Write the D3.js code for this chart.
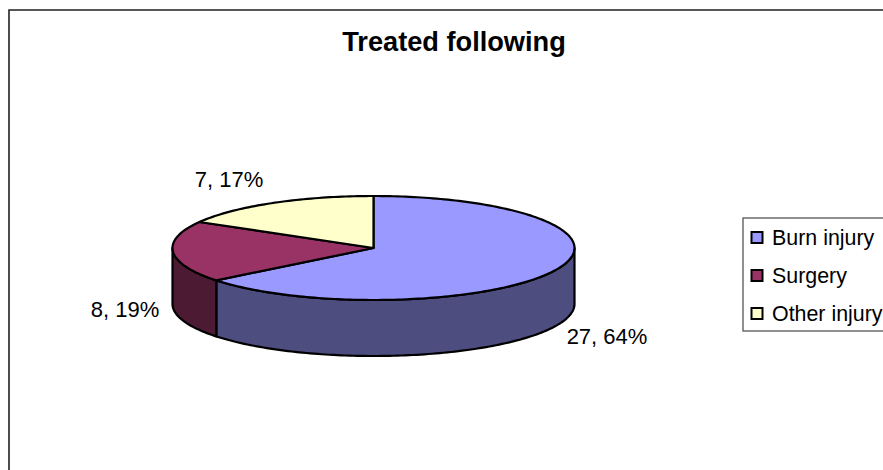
<!DOCTYPE html>
<html lang="en">
<head>
<meta charset="UTF-8">
<title>Treated following</title>
<script src="https://cdn.jsdelivr.net/npm/d3@7"></script>
<style>
*{margin:0; padding:0;}
html,body{background:#fff; overflow:hidden;}
text{font-family:"Liberation Sans",Arial,sans-serif; fill:#000;}
</style>
</head>
<body>
<script>
var categories = ["Burn injury", "Surgery", "Other injury"];
var counts = [27, 8, 7];
var percents = ["64%", "19%", "17%"];
var topColors = ["#9999ff", "#993366", "#ffffcc"];
var sideColors = ["#4d4d80", "#4d1a33", "#808066"];

var width = 883, height = 470;
var cx = 373.5, cy = 248, rx = 201, ry = 52, depth = 56;

var svg = d3.select("body").append("svg")
	.attr("width", width)
	.attr("height", height)
	.style("display", "block");

// chart frame, cut off on the right and bottom like the source
svg.append("path")
	.attr("d", "M9,470V10H883")
	.attr("fill", "none")
	.attr("stroke", "#222")
	.attr("stroke-width", 1.6);

svg.append("text")
	.attr("x", 454).attr("y", 50.5)
	.attr("text-anchor", "middle")
	.attr("font-size", 27.2)
	.attr("font-weight", "bold")
	.text("Treated following");

var pie = d3.pie().sort(null)(counts);

// angle is clockwise from 12 o'clock
function px(a){ return cx + rx*Math.sin(a); }
function py(a){ return cy - ry*Math.cos(a); }

var line = d3.line();
function rim(a0, a1, dy){
	var n = Math.max(2, Math.ceil((a1-a0)/0.02));
	return d3.range(n+1).map(function(i){
		var a = a0 + (a1-a0)*i/n;
		return [px(a), py(a)+dy];
	});
}

// walls, only the front half of the rim shows
var walls = svg.append("g");
pie.forEach(function(d, i){
	var a0 = Math.max(d.startAngle, Math.PI/2);
	var a1 = Math.min(d.endAngle, Math.PI*3/2);
	if(a1 <= a0) return;
	var pts = rim(a0, a1, 0).concat(rim(a0, a1, depth).reverse());
	walls.append("path")
		.attr("d", line(pts)+"Z")
		.attr("fill", sideColors[i])
		.attr("stroke", "#000")
		.attr("stroke-width", 2.2)
		.attr("stroke-linejoin", "round");
});

// top face
var tops = svg.append("g");
pie.forEach(function(d, i){
	var pts = [[cx, cy]].concat(rim(d.startAngle, d.endAngle, 0));
	tops.append("path")
		.attr("d", line(pts)+"Z")
		.attr("fill", topColors[i])
		.attr("stroke", "#000")
		.attr("stroke-width", 2.2)
		.attr("stroke-linejoin", "round");
});

var labelX = [607, 125, 229];
var labelY = [344, 317, 187];
svg.selectAll("text.lab")
	.data(categories)
	.enter().append("text")
	.attr("class", "lab")
	.attr("x", function(d,i){ return labelX[i]; })
	.attr("y", function(d,i){ return labelY[i]; })
	.attr("text-anchor", "middle")
	.attr("font-size", 22)
	.text(function(d,i){ return counts[i]+", "+percents[i]; });

// legend
var legend = svg.append("g");
legend.append("rect")
	.attr("x", 743).attr("y", 218)
	.attr("width", 160).attr("height", 113)
	.attr("fill", "#fff")
	.attr("stroke", "#555")
	.attr("stroke-width", 1.3);
var legY = d3.scalePoint().domain(categories).range([237.5, 313.5]);
categories.forEach(function(c, i){
	legend.append("rect")
		.attr("x", 751.5).attr("y", legY(c)-5.5)
		.attr("width", 11).attr("height", 11)
		.attr("fill", topColors[i])
		.attr("stroke", "#000")
		.attr("stroke-width", 2);
	legend.append("text")
		.attr("x", 772).attr("y", legY(c)+7)
		.attr("font-size", 21.4)
		.text(c);
});
</script>
</body>
</html>
